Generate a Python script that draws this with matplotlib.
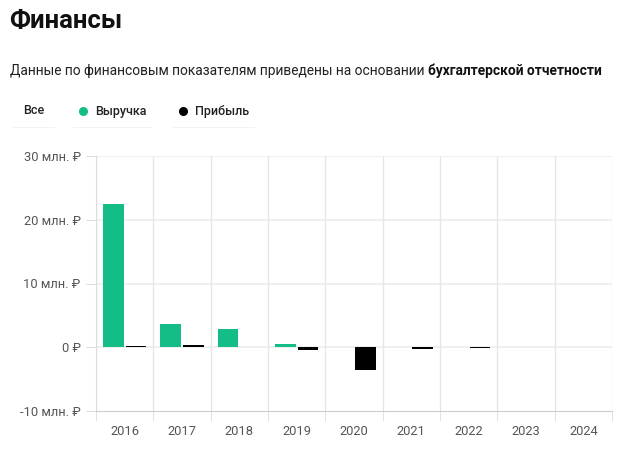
import matplotlib
matplotlib.use("Agg")
import matplotlib.pyplot as plt
from matplotlib.lines import Line2D
import numpy as np

plt.rcParams['font.family'] = ['Roboto', 'DejaVu Sans']

# --- Data (млн. ₽) ---
years = ['2016', '2017', '2018', '2019', '2020', '2021', '2022', '2023', '2024']
revenue = [22.5, 3.7, 2.8, 0.55, 0.05, 0.0, 0.0, 0.0, 0.0]
profit = [0.25, 0.4, 0.05, -0.5, -3.6, -0.25, -0.15, 0.0, 0.0]
y_ticks = [-10, 0, 10, 20, 30]
y_labels = ['-10 млн. ₽', '0 ₽', '10 млн. ₽', '20 млн. ₽', '30 млн. ₽']

GREEN = '#14bd87'
W, H = 629, 454

fig = plt.figure(figsize=(W / 100, H / 100), dpi=100)

# --- Header texts ---
fig.text(9 / W, 1 - 21 / H, 'Финансы', fontsize=18.5, fontweight='bold',
         color='#111111', va='center', ha='left')
part1 = 'Данные по финансовым показателям приведены на основании '
t = fig.text(10 / W, 1 - 71 / H, part1, fontsize=9.9, color='#222222',
             va='center', ha='left')
fig.canvas.draw()
bb = t.get_window_extent()
fig.text(bb.x1 / W, 1 - 71 / H, 'бухгалтерской отчетности', fontsize=9.9,
         fontweight='bold', color='#111111', va='center', ha='left')

# --- Legend buttons ---
legend_items = [('Все', None, 23), ('Выручка', GREEN, 95), ('Прибыль', '#000000', 195)]
for label, col, x in legend_items:
    fig.text(x / W, 1 - 111 / H, label, fontsize=9, fontweight='medium',
             color='#222222', va='center', ha='left')
    if col is not None:
        fig.lines.append(Line2D([(x - 12) / W], [1 - 111 / H], marker='o',
                                markersize=5.5, color=col, lw=0,
                                transform=fig.transFigure))
for x0, x1 in [(13, 55), (73, 152), (173, 255)]:
    fig.patches.append(plt.Rectangle((x0 / W, 1 - 128 / H), (x1 - x0) / W, 1.5 / H,
                                     transform=fig.transFigure, color='#f3f3f3', lw=0))

# --- Chart ---
ax = fig.add_axes([96 / W, 43 / H, (612 - 96) / W, (411 - 156) / H])
x = np.arange(len(years))
bw = 0.36
ax.bar(x - 0.2, revenue, width=bw, color=GREEN, zorder=3)
ax.bar(x + 0.2, profit, width=bw, color='#000000', zorder=3)

ax.set_xlim(-0.5, len(years) - 0.5)
ax.set_ylim(-10, 30)
ax.set_yticks(y_ticks)
ax.set_yticklabels(y_labels)
ax.set_xticks(x)
ax.set_xticklabels(years)
ax.set_xticks(np.arange(len(years) + 1) - 0.5, minor=True)

for yv in [0, 10, 20, 30]:
    ax.axhline(yv, color='#ececec', lw=1.2, zorder=1)
for xv in np.arange(len(years) + 1) - 0.5:
    ax.axvline(xv, color='#e6e6e6', lw=1, zorder=1)

for s in ['top', 'right']:
    ax.spines[s].set_visible(False)
ax.spines['left'].set_color('#dddddd')
ax.spines['bottom'].set_color('#cccccc')

ax.tick_params(axis='y', length=7, color='#dddddd', labelsize=9.3,
               labelcolor='#555555', pad=4)
ax.tick_params(axis='x', which='major', length=0, labelsize=9.3,
               labelcolor='#555555', pad=10)
ax.tick_params(axis='x', which='minor', length=7, color='#dddddd')

fig.savefig('out.png', dpi=100)
